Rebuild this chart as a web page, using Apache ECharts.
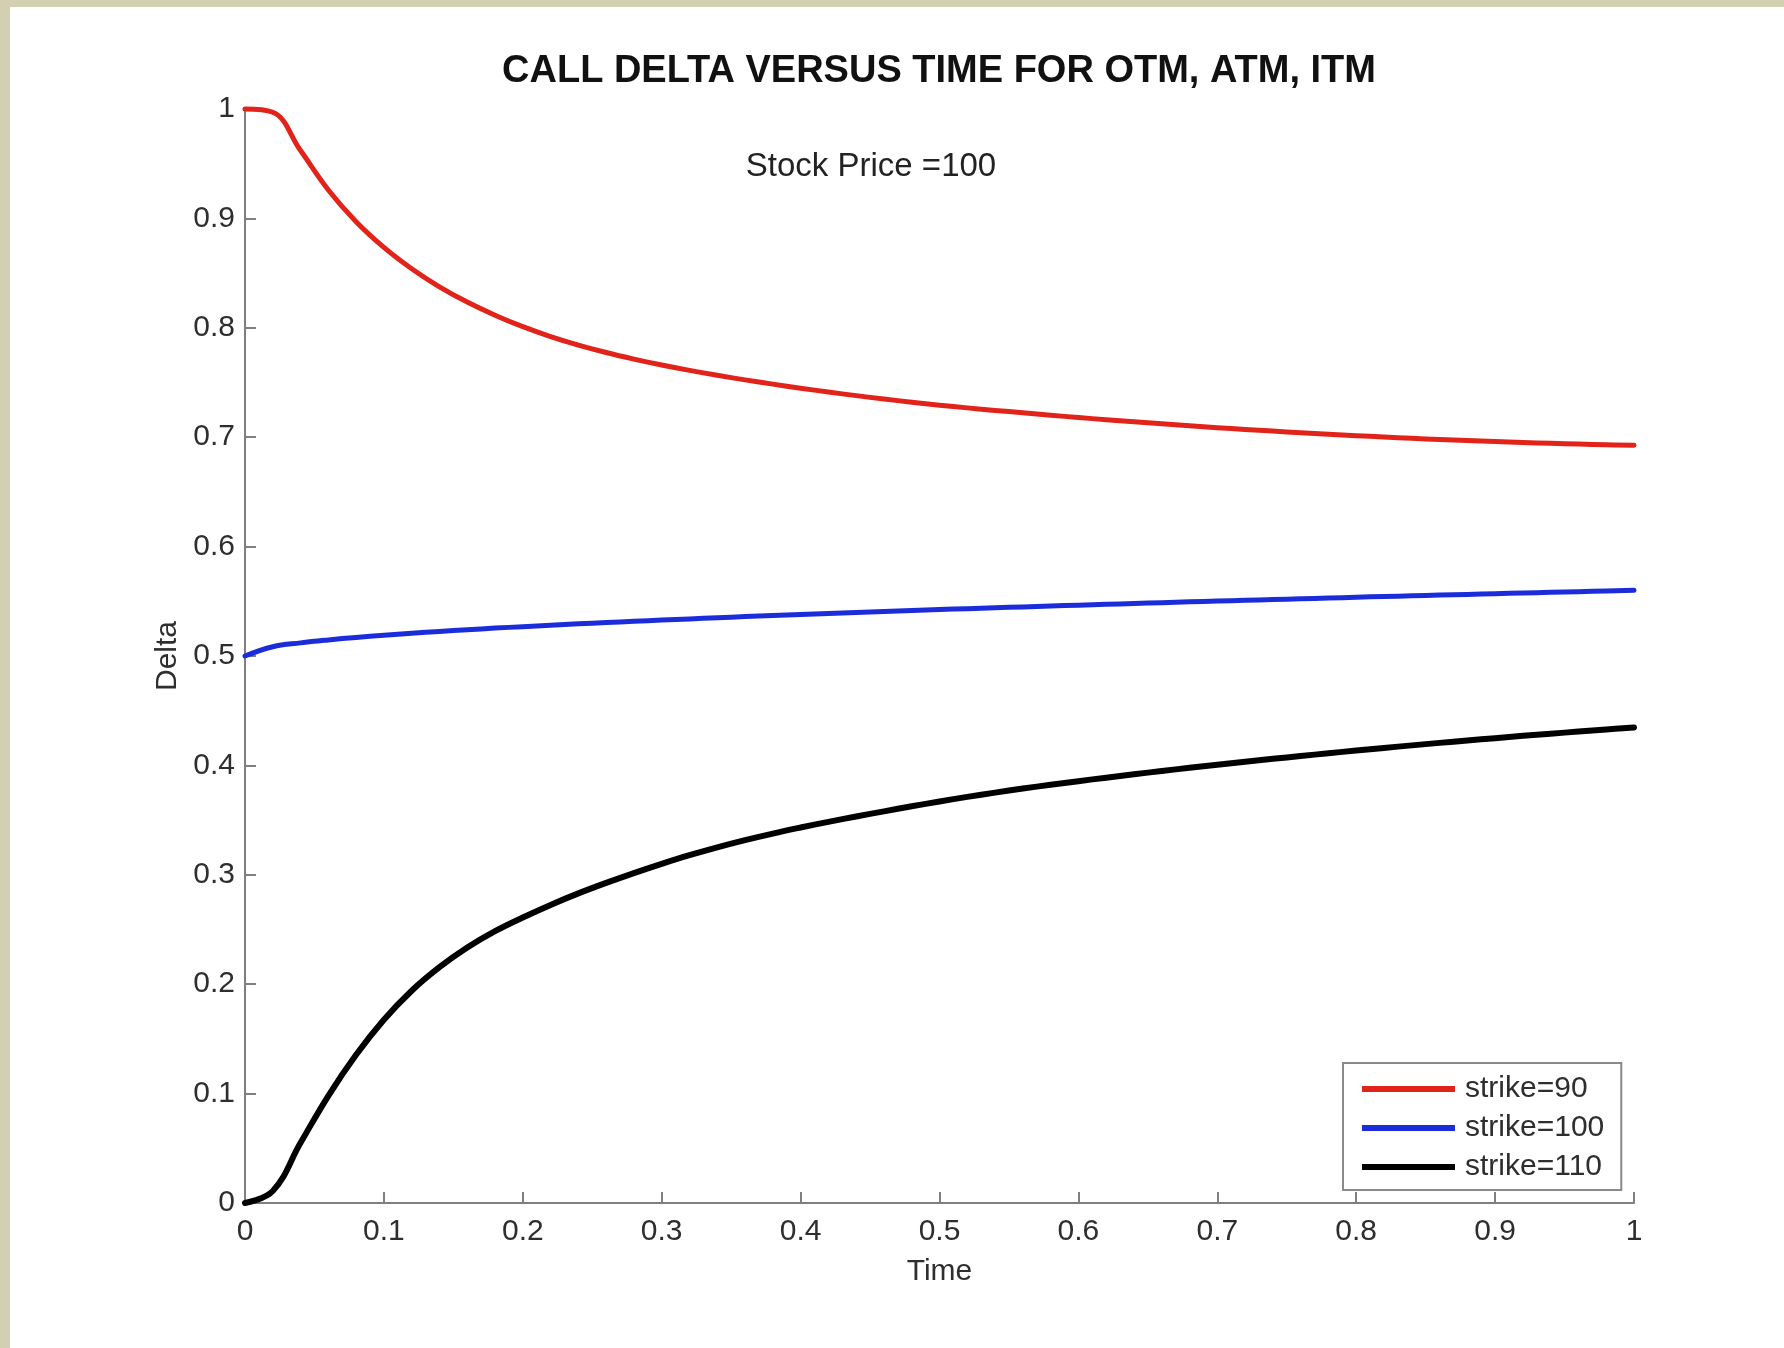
<!DOCTYPE html>
<html>
<head>
<meta charset="utf-8">
<title>Call Delta versus Time</title>
<script src="https://cdn.jsdelivr.net/npm/echarts@6/dist/echarts.min.js"></script>
<style>
  html, body { margin: 0; padding: 0; background: #ffffff; }
  #chart { width: 1784px; height: 1348px; }
</style>
</head>
<body>
<div id="chart"></div>
<script>
// Time to expiry (years) at which each delta curve is sampled
const timePoints = [
  0.00, 0.02, 0.04, 0.06, 0.08, 0.10, 0.12, 0.14, 0.16, 0.18,
  0.20, 0.22, 0.24, 0.26, 0.28, 0.30, 0.32, 0.34, 0.36, 0.38,
  0.40, 0.42, 0.44, 0.46, 0.48, 0.50, 0.52, 0.54, 0.56, 0.58,
  0.60, 0.62, 0.64, 0.66, 0.68, 0.70, 0.72, 0.74, 0.76, 0.78,
  0.80, 0.82, 0.84, 0.86, 0.88, 0.90, 0.92, 0.94, 0.96, 0.98, 1.00
];

// Call delta with the stock at 100 (in-the-money strike)
const deltaStrike90 = [
  1.0000, 0.9970, 0.9620, 0.9260, 0.8970, 0.8735, 0.8540, 0.8375, 0.8235, 0.8115,
  0.8010, 0.7920, 0.7842, 0.7774, 0.7714, 0.7660, 0.7611, 0.7566, 0.7524, 0.7485,
  0.7448, 0.7413, 0.7380, 0.7349, 0.7320, 0.7292, 0.7268, 0.7245, 0.7223, 0.7201,
  0.7180, 0.7160, 0.7141, 0.7122, 0.7104, 0.7087, 0.7071, 0.7056, 0.7041, 0.7027,
  0.7014, 0.7002, 0.6990, 0.6979, 0.6969, 0.6960, 0.6952, 0.6944, 0.6937, 0.6931, 0.6926
];
// At-the-money strike
const deltaStrike100 = [
  0.5000, 0.5085, 0.5120, 0.5147, 0.5170, 0.5190, 0.5208, 0.5224, 0.5240, 0.5255,
  0.5268, 0.5281, 0.5294, 0.5306, 0.5317, 0.5329, 0.5339, 0.5350, 0.5360, 0.5370,
  0.5379, 0.5389, 0.5398, 0.5407, 0.5416, 0.5424, 0.5433, 0.5441, 0.5449, 0.5457,
  0.5465, 0.5472, 0.5480, 0.5487, 0.5495, 0.5502, 0.5509, 0.5516, 0.5523, 0.5530,
  0.5537, 0.5544, 0.5550, 0.5557, 0.5563, 0.5569, 0.5576, 0.5582, 0.5588, 0.5594, 0.5600
];
// Out-of-the-money strike
const deltaStrike110 = [
  0.0000, 0.0110, 0.0550, 0.0980, 0.1355, 0.1675, 0.1940, 0.2155, 0.2335, 0.2485,
  0.2610, 0.2725, 0.2830, 0.2926, 0.3016, 0.3100, 0.3179, 0.3251, 0.3317, 0.3377,
  0.3432, 0.3484, 0.3533, 0.3580, 0.3626, 0.3670, 0.3712, 0.3751, 0.3788, 0.3823,
  0.3856, 0.3888, 0.3919, 0.3949, 0.3978, 0.4006, 0.4034, 0.4060, 0.4086, 0.4111,
  0.4136, 0.4160, 0.4183, 0.4206, 0.4228, 0.4249, 0.4270, 0.4290, 0.4309, 0.4328, 0.4347
];

const seriesNames = ['strike=90', 'strike=100', 'strike=110'];
const seriesColors = ['#e2231a', '#1b2ddb', '#000000'];
const seriesWidths = [5, 5, 6];

const titleText = 'CALL DELTA VERSUS TIME FOR OTM, ATM, ITM';
const subtitleText = 'Stock Price =100';
const xAxisName = 'Time';
const yAxisName = 'Delta';

const FONT = "'Liberation Sans', Arial, Helvetica, sans-serif";
const AXIS_GRAY = '#7f7f7f';
const LABEL_GRAY = '#2e2e2e';

function pairs(xs, ys) {
  return xs.map((x, i) => [x, ys[i]]);
}
function tickText(v) {
  return String(Math.round(v * 10) / 10);
}

const curves = [deltaStrike90, deltaStrike100, deltaStrike110];

const chart = echarts.init(document.getElementById('chart'), null, { renderer: 'canvas' });

chart.setOption({
  animation: false,
  backgroundColor: '#ffffff',
  graphic: [
    { type: 'rect', z: -10, shape: { x: 0, y: 0, width: 1784, height: 7 }, style: { fill: '#d3d0b2' }, silent: true },
    { type: 'rect', z: -10, shape: { x: 0, y: 0, width: 10, height: 1348 }, style: { fill: '#d3d0b2' }, silent: true }
  ],
  title: [
    {
      text: titleText,
      left: 939,
      top: 53,
      textAlign: 'center',
      padding: 0,
      textStyle: { fontFamily: FONT, fontSize: 38, fontWeight: 'bold', color: '#111111', lineHeight: 38 }
    },
    {
      text: subtitleText,
      left: 871,
      top: 150,
      textAlign: 'center',
      padding: 0,
      textStyle: { fontFamily: FONT, fontSize: 33, fontWeight: 'normal', color: '#222222', lineHeight: 33 }
    }
  ],
  legend: {
    orient: 'vertical',
    left: 1343,
    top: 1063,
    padding: [11, 17, 8, 19],
    itemGap: 9,
    itemWidth: 93,
    itemHeight: 6,
    icon: 'rect',
    backgroundColor: '#ffffff',
    borderColor: '#8a8a8a',
    borderWidth: 2,
    borderRadius: 0,
    data: seriesNames,
    textStyle: { fontFamily: FONT, fontSize: 30, color: LABEL_GRAY, lineHeight: 30, padding: [0, 0, 0, 5] }
  },
  grid: { left: 245, top: 109, width: 1389, height: 1094, containLabel: false },
  xAxis: {
    type: 'value',
    min: 0,
    max: 1,
    interval: 0.1,
    name: xAxisName,
    nameLocation: 'middle',
    nameGap: 54,
    nameTextStyle: { fontFamily: FONT, fontSize: 30, color: LABEL_GRAY },
    axisLine: { show: true, onZero: false, lineStyle: { color: AXIS_GRAY, width: 2 } },
    axisTick: { show: true, inside: true, length: 11, lineStyle: { color: AXIS_GRAY, width: 2 } },
    axisLabel: { margin: 14, fontFamily: FONT, fontSize: 30, color: LABEL_GRAY, formatter: tickText },
    splitLine: { show: false }
  },
  yAxis: {
    type: 'value',
    min: 0,
    max: 1,
    interval: 0.1,
    name: yAxisName,
    nameLocation: 'middle',
    nameGap: 62,
    nameTextStyle: { fontFamily: FONT, fontSize: 30, color: LABEL_GRAY },
    axisLine: { show: true, onZero: false, lineStyle: { color: AXIS_GRAY, width: 2 } },
    axisTick: { show: true, inside: true, length: 11, lineStyle: { color: AXIS_GRAY, width: 2 } },
    axisLabel: { margin: 10, fontFamily: FONT, fontSize: 30, color: LABEL_GRAY, formatter: tickText },
    splitLine: { show: false }
  },
  series: seriesNames.map((name, i) => ({
    name: name,
    type: 'line',
    data: pairs(timePoints, curves[i]),
    smooth: 0.4,
    showSymbol: false,
    clip: false,
    color: seriesColors[i],
    lineStyle: { color: seriesColors[i], width: seriesWidths[i], cap: 'round', join: 'round' },
    z: 3
  }))
});
</script>
</body>
</html>
